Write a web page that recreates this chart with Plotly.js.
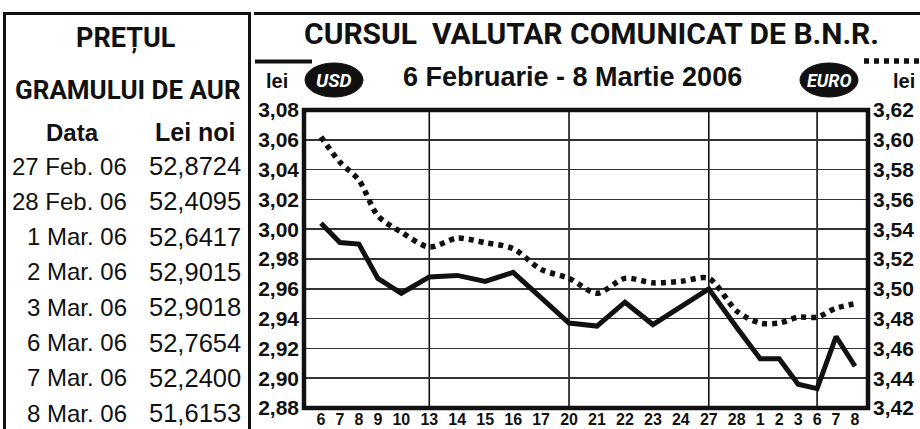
<!DOCTYPE html>
<html>
<head>
<meta charset="utf-8">
<script src="https://cdn.plot.ly/plotly-3.0.1.min.js"></script>
<style>html,body{margin:0;padding:0;background:#fff;}#chart{width:920px;height:429px;}</style>
</head>
<body>
<div id="chart"></div>
<script>
// ---- data ----
const dayLabels = ['6','7','8','9','10','13','14','15','16','17','20','21','22','23','24','27','28','1','2','3','6','7','8'];
const usdValues = [3.004,2.991,2.990,2.967,2.957,2.968,2.969,2.965,2.971,2.954,2.937,2.935,2.951,2.936,2.948,2.960,2.934,2.913,2.913,2.896,2.893,2.928,2.908];
const euroValues = [3.602,3.585,3.573,3.549,3.538,3.528,3.534,3.531,3.527,3.513,3.507,3.497,3.507,3.504,3.505,3.507,3.485,3.477,3.477,3.481,3.481,3.487,3.490];
const goldDates = ['27 Feb. 06','28 Feb. 06','1 Mar. 06','2 Mar. 06','3 Mar. 06','6 Mar. 06','7 Mar. 06','8 Mar. 06'];
const goldPrices = [52.8724,52.4095,52.6417,52.9015,52.9018,52.7654,52.2400,51.6153];

// ---- layout helpers ----
const L = 304, R = 868, T = 110, B = 408;
const W = R - L, H = B - T;
const px = v => (v - L) / W;
const py = v => (B - v) / H;
const SANS = 'Liberation Sans, Arial, sans-serif';
const COND = 'Roboto, Liberation Sans, sans-serif';

// x positions follow the typeset day labels (wider labels take more room)
const CH = 9, GAP = 10;
const xpos = [0];
for (let i = 1; i < dayLabels.length; i++) {
  xpos.push(xpos[i-1] + CH * (dayLabels[i-1].length + dayLabels[i].length) / 2 + GAP);
}
const xRange = [xpos[0] - 17, xpos[xpos.length - 1] + 13];

const traces = [
  {x: xpos, y: euroValues, yaxis: 'y2', type: 'scatter', mode: 'lines', name: 'EURO',
   line: {color: '#111', width: 5.5, dash: '5px,5px', shape: 'spline', smoothing: 0.8}, hoverinfo: 'skip'},
  {x: xpos, y: usdValues, yaxis: 'y', type: 'scatter', mode: 'lines', name: 'USD',
   line: {color: '#111', width: 5, shape: 'linear'}, hoverinfo: 'skip'}
];

const shapes = [];
// vertical week grid lines (Mondays)
for (let i = 5; i < dayLabels.length; i += 5) {
  shapes.push({type: 'line', xref: 'x', yref: 'paper', x0: xpos[i], x1: xpos[i], y0: 0, y1: 1,
    line: {color: '#111', width: 1.6}, layer: 'below'});
}
// plot frame
shapes.push({type: 'rect', xref: 'paper', yref: 'paper', x0: 0, x1: 1, y0: 0, y1: 1,
  line: {color: '#111', width: 4.5}, layer: 'above'});
// left table box
shapes.push({type: 'rect', xref: 'paper', yref: 'paper', x0: px(4.5), x1: px(249.5), y0: py(460), y1: py(13.5),
  line: {color: '#111', width: 3}});
// right panel top rule
shapes.push({type: 'line', xref: 'paper', yref: 'paper', x0: px(254), x1: px(922), y0: py(13.5), y1: py(13.5),
  line: {color: '#111', width: 3}});
// legend samples
shapes.push({type: 'line', xref: 'paper', yref: 'paper', x0: px(255), x1: px(312), y0: py(61.5), y1: py(61.5),
  line: {color: '#111', width: 4}});
shapes.push({type: 'line', xref: 'paper', yref: 'paper', x0: px(864), x1: px(922), y0: py(61), y1: py(61),
  line: {color: '#111', width: 5.5, dash: '5px,5px'}});
// currency badges
shapes.push({type: 'circle', xref: 'paper', yref: 'paper', x0: px(305), x1: px(363), y0: py(97), y1: py(63),
  fillcolor: '#111', line: {color: '#111', width: 1}});
shapes.push({type: 'circle', xref: 'paper', yref: 'paper', x0: px(800), x1: px(858), y0: py(97), y1: py(63),
  fillcolor: '#111', line: {color: '#111', width: 1}});

const ann = [];
function text(t, x, y, size, opts) {
  opts = opts || {};
  ann.push({text: t, xref: 'paper', yref: 'paper', x: px(x), y: py(y),
    xanchor: opts.xanchor || 'center', yanchor: 'middle', showarrow: false,
    font: {family: opts.family || SANS, size: size, color: opts.color || '#111', weight: opts.weight || 'normal',
           style: opts.style || 'normal'}});
}
text('CURSUL  VALUTAR COMUNICAT DE B.N.R.', 591, 34, 30, {weight: 'bold', family: COND});
text('6 Februarie - 8 Martie 2006', 572, 77, 27, {weight: 'bold'});
text('lei', 277, 81, 20, {weight: 'bold'});
text('lei', 904, 81, 20, {weight: 'bold'});
text('USD', 334, 80, 19, {weight: 'bold', style: 'italic', color: '#fff', family: COND});
text('EURO', 829, 80, 18, {weight: 'bold', style: 'italic', color: '#fff', family: COND});
text('PRE\u021AUL', 126, 38, 27, {weight: 'bold', family: COND});
text('GRAMULUI DE AUR', 128, 90, 26, {weight: 'bold', family: COND});
text('Data', 72, 132, 24, {weight: 'bold'});
text('Lei noi', 195, 132, 25, {weight: 'bold'});
const rowY0 = 166, rowStep = 35.3;
goldDates.forEach((d, i) => {
  text(d, 129, rowY0 + i * rowStep, 24, {xanchor: 'right'});
  text(goldPrices[i].toFixed(4).replace('.', ','), 243, rowY0 + i * rowStep, 25.5, {xanchor: 'right'});
});

const layout = {
  width: 920, height: 429,
  margin: {l: L, r: 920 - R, t: T, b: 429 - B, pad: 0},
  paper_bgcolor: '#fff', plot_bgcolor: '#fff',
  separators: ',.',
  showlegend: false,
  xaxis: {type: 'linear', range: xRange, tickmode: 'array', tickvals: xpos, ticktext: dayLabels,
    showgrid: false, zeroline: false, showline: false, ticks: '', ticklabelstandoff: 0,
    tickfont: {family: SANS, size: 16, color: '#111', weight: 'bold'}, fixedrange: true},
  yaxis: {range: [2.88, 3.08], dtick: 0.02, tick0: 2.88, tickformat: '.2f', showgrid: true,
    gridcolor: '#333', gridwidth: 1.5, zeroline: false, showline: false, ticks: '', ticklabelstandoff: 4,
    tickfont: {family: SANS, size: 21, color: '#111', weight: 'bold'}, fixedrange: true},
  yaxis2: {range: [3.42, 3.62], dtick: 0.02, tick0: 3.42, tickformat: '.2f', overlaying: 'y', side: 'right',
    showgrid: false, zeroline: false, showline: false, ticks: '', ticklabelstandoff: 4,
    tickfont: {family: SANS, size: 21, color: '#111', weight: 'bold'}, fixedrange: true},
  shapes: shapes,
  annotations: ann
};
Plotly.newPlot('chart', traces, layout, {staticPlot: true, displayModeBar: false});
</script>
</body>
</html>
